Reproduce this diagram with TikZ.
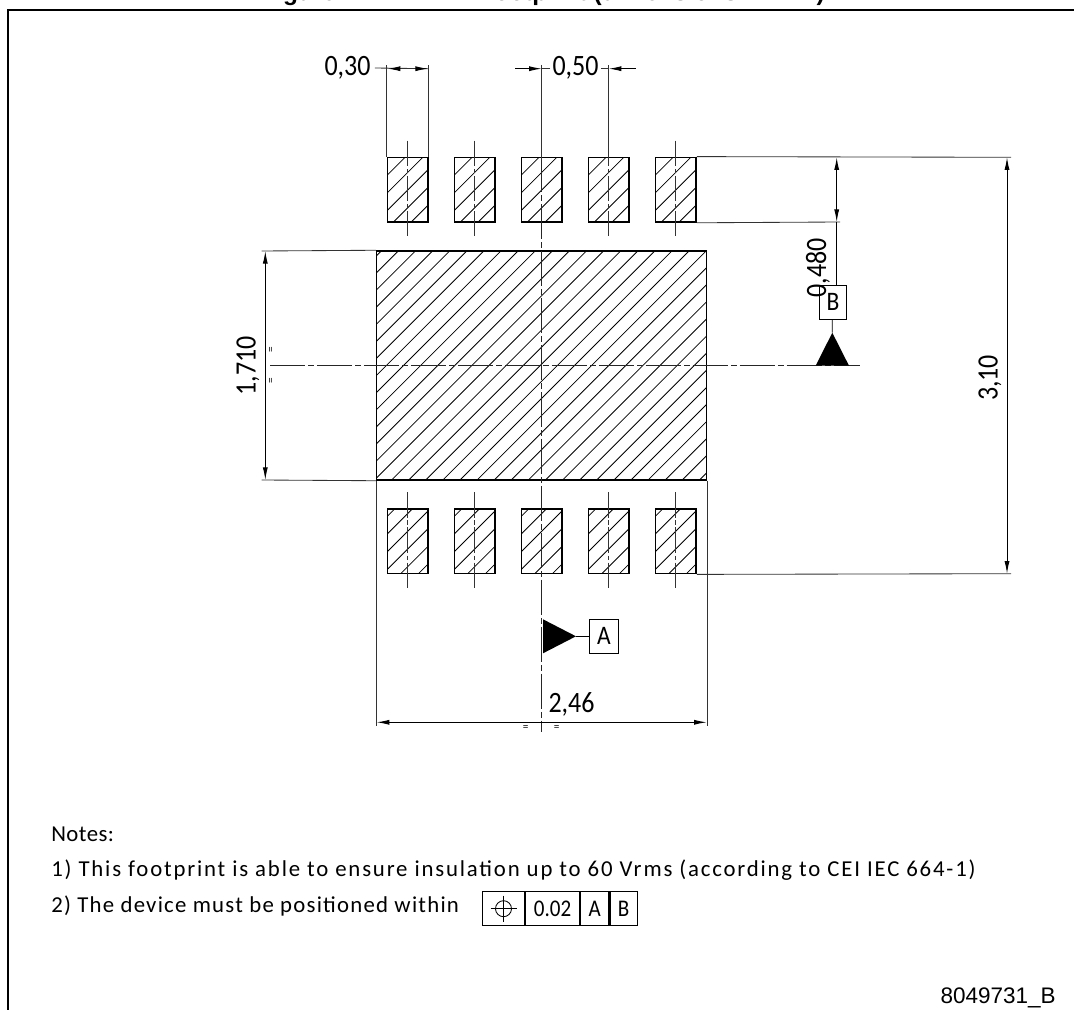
\documentclass[tikz,border=0pt]{standalone}
\usepackage{fontspec}
\setmainfont{Carlito}
\newfontfamily\dimfont[LetterSpace=2]{Carlito}
\newfontfamily\widefont[LetterSpace=8]{Carlito}
\newfontfamily\midfont[LetterSpace=5.4]{Carlito}
\newfontfamily\tallfont[FakeStretch=0.88]{Carlito}
\newfontfamily\arialfont{Liberation Sans}
\usetikzlibrary{arrows.meta, calc, positioning}
\def\pxu{0.025cm}
\tikzset{
    hatched/.style n args={3}{path picture={
        \foreach \k in {0,...,#3} {
            \pgfmathsetmacro\s{#1+#2*\k}
            \draw[line width=0.6pt] ($(path picture bounding box.north west)+(\s,0)$) -- ($(path picture bounding box.north west)+(0,\s)$);
        }
    }},
    padbox/.style={rectangle, draw, line width=1.05pt, inner sep=0, minimum width=40.7*\pxu, minimum height=64.7*\pxu},
    extline/.style={line width=0.6pt, black!80},
    dimline/.style={line width=0.7pt, {Latex[length=9pt,width=3.6pt]}-{Latex[length=9pt,width=3.6pt]}},
    oneline/.style={line width=0.7pt, -{Latex[length=9pt,width=3.6pt]}},
    axisline/.style={line width=0.6pt, black!85, dash pattern=on 25pt off 2.2pt on 4pt off 2.2pt},
    padaxis/.style={line width=0.6pt, black!80, dash pattern=on 18pt off 2pt on 3pt off 2pt},
    dimtext/.style={inner sep=0, font=\tallfont\fontsize{21}{21}\selectfont},
    equaltext/.style={inner sep=0, font=\fontsize{8}{8}\selectfont},
    notetext/.style={inner sep=0, anchor=base west, font=\fontsize{16.2}{16.2}\selectfont},
    datumbox/.style={rectangle, draw, line width=0.6pt, inner sep=0, font=\tallfont\fontsize{19}{19}\selectfont},
    tolbox/.style={rectangle, draw, line width=0.8pt, inner sep=0, minimum height=34*\pxu, font=\tallfont\fontsize{17}{17}\selectfont},
    datumtip/.style={fill=black, draw=none}
}
\begin{document}
\begin{tikzpicture}[x=0.025cm, y=-0.025cm]
\useasboundingbox (0,0) rectangle (1074,1010);

% Clipped heading
\begin{scope}
\clip (0,0) rectangle (1074,9);
\node[inner sep=0, anchor=base west, font=\arialfont\bfseries\fontsize{17.4}{17.4}\selectfont] (headleft) at (261,0.5) {Figure};
\node[inner sep=0, anchor=base east, font=\arialfont\bfseries\fontsize{17.4}{17.4}\selectfont] (headright) at (825,0.5) {footprint (dimensions in mm)};
\end{scope}

% Frame
\coordinate (frameBL) at (8,1010);
\coordinate (frameTL) at (8,10);
\coordinate (frameTR) at (1074,10);
\draw[line width=1.5pt] (frameBL) -- (frameTL) -- (frameTR);

% Central area
\node[rectangle, draw, line width=1.05pt, inner sep=0, minimum width=330*\pxu, minimum height=229*\pxu, hatched={4.5}{17.1}{33}] (body) at (541.7,365.5) {};

% Pads
\foreach \i/\x in {1/407.7, 2/474.7, 3/541.7, 4/608.7, 5/675.7} {
    \node[padbox, hatched={17.7}{17.7}{5}] (top\i) at (\x,189.7) {};
    \node[padbox, hatched={7.3}{17.7}{6}] (bot\i) at (\x,541.3) {};
}
\foreach \i/\x in {1/407.7, 2/474.7, 4/608.7, 5/675.7} {
    \draw[padaxis] (\x,140.7) -- (\x,238.7);
    \draw[padaxis] (\x,492.3) -- (\x,590);
}

% Axes
\draw[axisline] (541.7,157) -- (541.7,732);
\draw[extline] (541.7,65) -- (541.7,160);
\draw[axisline] (270,365.7) -- (860,365.7);

% Dim 0,30 and 0,50
\node[dimtext] (dimA) at (347.5,68) {0,30};
\node[dimtext] (dimB) at (575.5,68) {0,50};
\draw[extline] (top1.north west) -- ++(0,-92);
\draw[extline] (top1.north east) -- ++(0,-92);
\draw[extline] (top4.north) -- ++(0,-92);
\draw[extline] (dimA.east) ++(4,0) coordinate (dimAend) -- (428,68.7);
\draw[oneline] (395,68.7) -- (387.7,68.7);
\draw[oneline] (420,68.7) -- (428,68.7);
\draw[oneline] (515,68.7) -- (541.7,68.7);
\draw[oneline] (635.6,68.7) -- (608.7,68.7);
\draw[extline] (dimB.east) ++(2,0) -- ++(7,0);
\draw[extline] (dimB.west) ++(-2,0) -- ++(-9,0);

% Dim 1,710
\coordinate (bodyTLext) at (261.7,251);
\coordinate (bodyBLext) at (261.7,480);
\draw[extline] (bodyTLext) -- (body.north west);
\draw[extline] (bodyBLext) -- (body.south west);
\draw[dimline] (265.3,251) -- (265.3,480);
\node[dimtext, rotate=90] (dimC) at (248,366) {1,710};
\node[equaltext, rotate=90] (eqC) at (271.7,350) {=};
\node[equaltext, rotate=90] (eqD) at (271.7,381) {=};

% Dim 2,46
\draw[extline] (body.south west) -- ++(0,245);
\draw[extline] (body.south east) -- ++(0,245);
\draw[dimline] (376.7,722.3) -- (706.7,722.3);
\node[dimtext] (dimD) at (571.5,704) {2,46};
\node[equaltext] (eqA) at (525.7,728) {=};
\node[equaltext] (eqB) at (556.7,728) {=};

% Dim 0,480 and 3,10
\draw[extline] (top5.north east) -- (1011,157.3);
\draw[extline] (top5.south east) -- (840,222);
\draw[extline] (bot5.south east) -- (1011,573.7);
\draw[dimline] (836.7,157.3) -- (836.7,222);
\draw[dimline] (1007,157.3) -- (1007,573.7);
\node[dimtext, rotate=90] (dimE) at (818,268) {0,480};
\node[dimtext, rotate=90] (dimF) at (990,378) {3,10};

% Datum B
\node[datumbox, minimum width=27.4*\pxu, minimum height=34*\pxu] (datumB) at (833,302) {B};
\draw[line width=0.7pt] (836.7,222) -- (datumB.north -| 836.7,0);
\fill[datumtip] (815.7,365.7) coordinate (tipBl) -- (832.3,332.7) coordinate (tipB) -- (849,365.7) -- cycle;
\draw[line width=0.6pt] (datumB.south) ++(-0.7,0) -- (tipB);

% Datum A
\node[datumbox, minimum width=29*\pxu, minimum height=34*\pxu] (datumA) at (603.8,636.3) {A};
\fill[datumtip] (543,619.3) -- (576,636.3) coordinate (tipA) -- (543,653.3) -- cycle;
\draw[line width=0.6pt] (tipA) -- (datumA.west);

% Notes
\node[notetext] (note0) at (51,841.7) {\dimfont Notes:};
\node[notetext] (note1) at (51,876.7) {\widefont 1) This footprint is able to ensure insulation up to 60 Vrms (according to CEI IEC 664-1)};
\node[notetext] (note2) at (51,912.7) {\midfont 2) The device must be positioned within};

% Tolerance frame
\node[tolbox, minimum width=42.5*\pxu] (tolSym) at (503.5,908.7) {};
\node[tolbox, minimum width=53.5*\pxu, right=0 of tolSym] (tolVal) {0.02};
\node[tolbox, minimum width=28.5*\pxu, right=0 of tolVal] (tolA) {A};
\node[tolbox, minimum width=27*\pxu, right=0 of tolA] (tolB) {B};
\draw[line width=0.6pt] (tolSym.center) circle (8);
\draw[line width=0.6pt] ($(tolSym.center)+(-13,0)$) -- ($(tolSym.center)+(13,0)$);
\draw[line width=0.6pt] ($(tolSym.center)+(0,-13)$) -- ($(tolSym.center)+(0,13)$);

% Drawing number
\node[inner sep=0, anchor=base east, font=\arialfont\fontsize{16}{16}\selectfont] (drawno) at (1056,1003) {8049731\_B};

\end{tikzpicture}
\end{document}
